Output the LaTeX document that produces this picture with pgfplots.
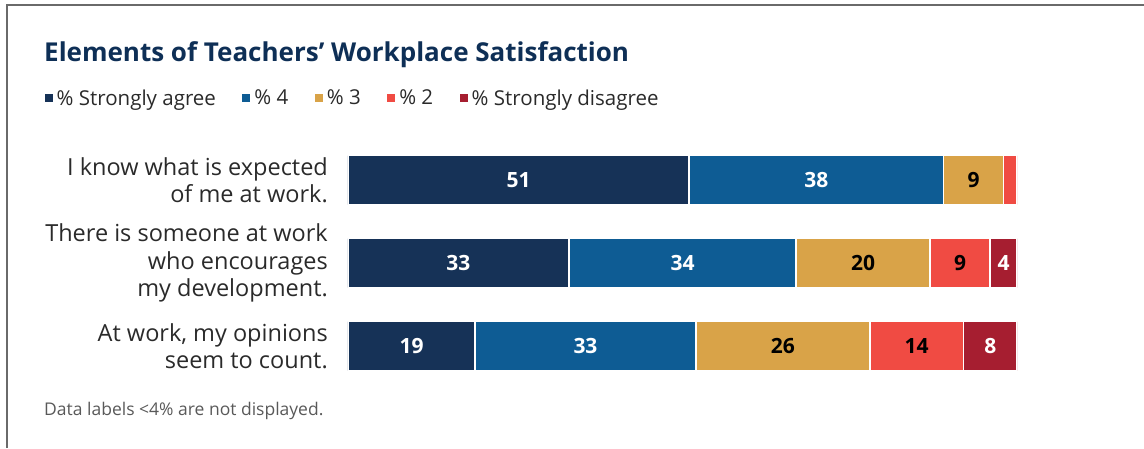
\documentclass[border=0pt]{standalone}
\usepackage{pgfplots}
\pgfplotsset{compat=1.18}
\usepackage{fontspec}
\setmainfont{Open Sans}
\definecolor{cnavy}{HTML}{163257}
\definecolor{cblue}{HTML}{0E5C94}
\definecolor{cgold}{HTML}{D9A348}
\definecolor{cred}{HTML}{F04B43}
\definecolor{cdred}{HTML}{A61E30}
\definecolor{ctitle}{HTML}{0E2F56}
\definecolor{ctext}{HTML}{2A2A2A}
\definecolor{cframe}{HTML}{6A6A6A}
\begin{document}
\begin{tikzpicture}[x=1pt,y=1pt]
\useasboundingbox (0,0) rectangle (1144,448);
\draw[cframe, line width=1.5pt] (7,0) -- (7,443) -- (1144,443);
\begin{axis}[
  at={(348pt,60.5pt)}, anchor=south west,
  scale only axis, width=669pt, height=249pt,
  xbar stacked, bar width=49pt,
  xmin=0, xmax=100, ymin=-0.5, ymax=2.5, y dir=reverse,
  axis line style={draw=none}, tick style={draw=none},
  xtick=\empty, ytick={0,1,2},
  yticklabels={{I know what is expected\\of me at work.},{There is someone at work\\who encourages\\my development.},{At work, my opinions\\seem to count.}},
  yticklabel style={align=right, font=\fontsize{23.5}{27.5}\selectfont, text=ctext, inner xsep=0pt, xshift=-20pt},
  point meta=explicit symbolic,
  nodes near coords,
  every node near coord/.append style={anchor=center, font=\fontsize{21}{24}\selectfont\bfseries},
  legend image code/.code={\fill[#1] (0pt,-4.5pt) rectangle (9.5pt,5pt);},
  legend columns=5,
  legend style={at={(-0.4559,1.1627)}, anchor=west, draw=none, fill=none,
    font=\fontsize{20.5}{23}\selectfont, text=ctext, inner sep=0pt,
    nodes={inner sep=0pt},
    /tikz/every odd column/.append style={column sep=2.5pt},
    /tikz/every even column/.append style={column sep=25pt}},
]
\addplot[fill=cnavy, draw=white, line width=1.5pt, every node near coord/.append style={text=white}]
  coordinates {(51,0) [51] (33,1) [33] (19,2) [19]};
\addplot[fill=cblue, draw=white, line width=1.5pt, every node near coord/.append style={text=white}]
  coordinates {(38,0) [38] (34,1) [34] (33,2) [33]};
\addplot[fill=cgold, draw=white, line width=1.5pt, every node near coord/.append style={text=black}]
  coordinates {(9,0) [9] (20,1) [20] (26,2) [26]};
\addplot[fill=cred, draw=white, line width=1.5pt, every node near coord/.append style={text=black}]
  coordinates {(2,0) [{}] (9,1) [9] (14,2) [14]};
\addplot[fill=cdred, draw=white, line width=1.5pt, every node near coord/.append style={text=white}]
  coordinates {(0,0) [{}] (4,1) [4] (8,2) [8]};
\legend{\% Strongly agree, \% 4, \% 3, \% 2, \% Strongly disagree}
\end{axis}
\node[anchor=base west, inner sep=0pt, text=ctitle, font=\fontsize{26}{30}\selectfont\bfseries] at (44,386) {Elements of Teachers’ Workplace Satisfaction};
\node[anchor=base west, inner sep=0pt, text=black!65, font=\fontsize{17.5}{20}\selectfont] at (44,33) {Data labels <4\% are not displayed.};
\end{tikzpicture}
\end{document}
